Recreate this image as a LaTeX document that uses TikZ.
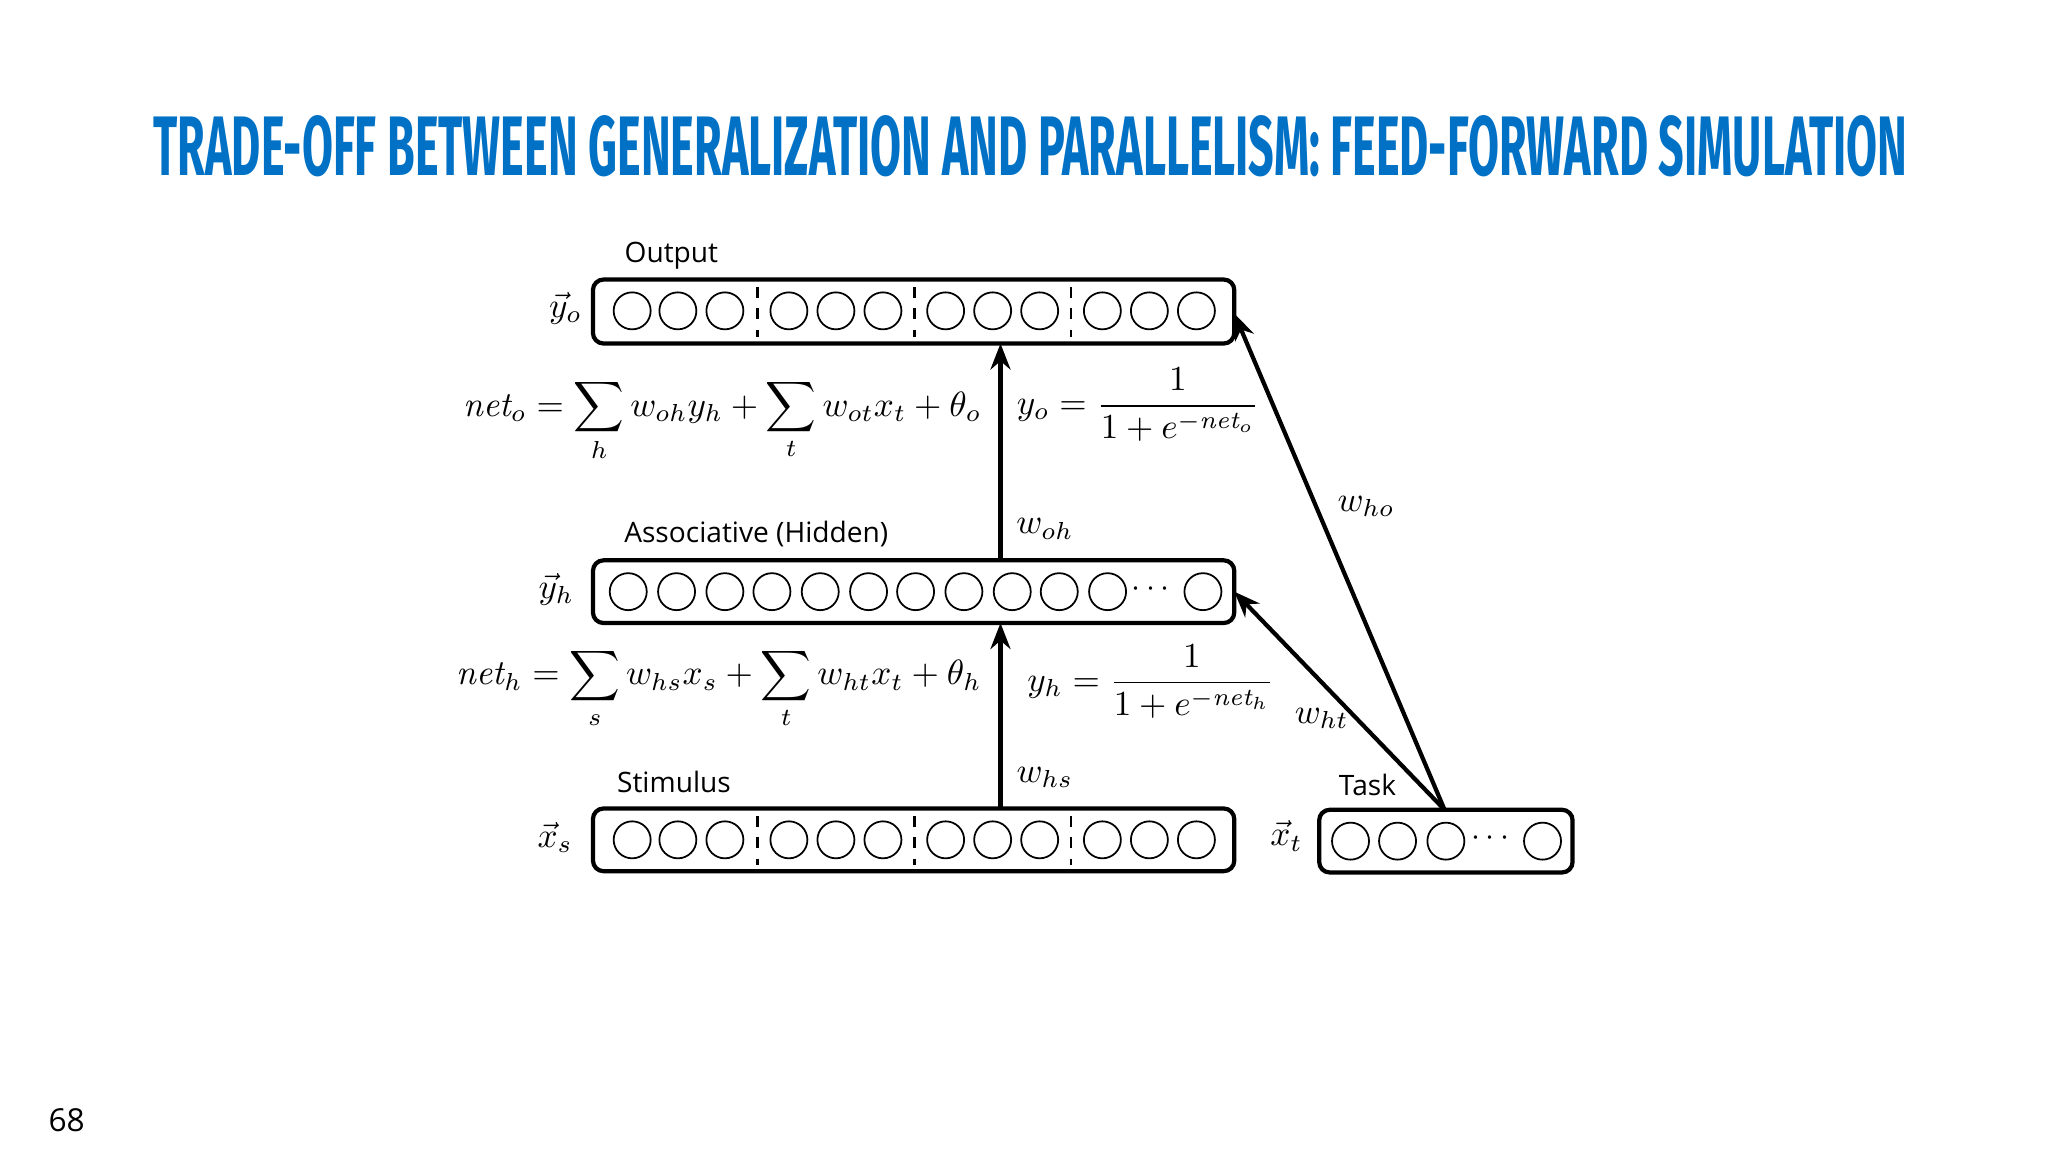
\documentclass[tikz,border=0pt]{standalone}
\usepackage{fontspec}
\usepackage{amsmath}
\newfontfamily\titlefont{Fira Sans}
\newfontfamily\labfont{Open Sans}
\definecolor{tblue}{RGB}{0,113,197}
\usetikzlibrary{arrows.meta}
\tikzset{
 bar/.style={draw, line width=1.2pt, rounded corners=3pt},
 unit/.style={draw, circle, line width=0.5pt, minimum size=0.37cm, inner sep=0pt},
 sep/.style={dashed, line width=0.8pt},
 arr/.style={-{Stealth[length=2.6mm,width=2mm]}, line width=1.2pt},
 lab/.style={font=\labfont\fontsize{8}{10}\selectfont, inner sep=0pt},
 eq/.style={font=\fontsize{10}{12}\selectfont, inner sep=0pt}
}
\begin{document}
\begin{tikzpicture}[x=0.013061cm,y=-0.013061cm]
\useasboundingbox (0,0) rectangle (1568,882);
\node[text=tblue, inner sep=0pt] (title) at (789,112) {\resizebox{17.54cm}{0.6cm}{\titlefont\bfseries TRADE-OFF BETWEEN GENERALIZATION AND PARALLELISM: FEED-FORWARD SIMULATION}};
\node[font=\labfont\fontsize{9}{10}\selectfont] (pg) at (51,858) {68};
% bars
\node[bar, minimum width=491*0.013061cm, minimum height=49*0.013061cm] (out) at (699.5,238.5) {};
\node[bar, minimum width=491*0.013061cm, minimum height=48*0.013061cm] (hid) at (699.5,453) {};
\node[bar, minimum width=491*0.013061cm, minimum height=48*0.013061cm] (sti) at (699.5,643) {};
\node[bar, minimum width=194*0.013061cm, minimum height=48*0.013061cm] (tsk) at (1107,644) {};
\foreach \x [count=\i] in {484,519,555,604,640,676,724,760,796,844,880,916}{
  \node[unit] (o\i) at (\x,238) {};
  \node[unit] (s\i) at (\x,643) {};
}
\foreach \x in {580,700,820}{
  \draw[sep] (\x,220) -- (\x,258);
  \draw[sep] (\x,625) -- (\x,662);
}
\foreach \x [count=\i] in {481,518,555,591,628,665,701,738,775,811,848,921}{
  \node[unit] (h\i) at (\x,453) {};
}
\node[inner sep=0pt, font=\small] (hd) at (883,451) {$\cdots$};
\foreach \x [count=\i] in {1034,1070,1107,1181}{
  \node[unit] (t\i) at (\x,644) {};
}
\node[inner sep=0pt, font=\small] (td) at (1143,642) {$\cdots$};
% arrows
\coordinate (a1) at (766,619);
\coordinate (a2) at (766,477);
\coordinate (a3) at (766,429);
\coordinate (a4) at (766,263);
\coordinate (tk) at (1106,620);
\coordinate (hr) at (945,453);
\coordinate (orr) at (945,240);
\draw[arr] (a1) -- (a2);
\draw[arr] (a3) -- (a4);
\draw[arr] (tk) -- (hr);
\draw[arr] (tk) -- (orr);
% labels
\node[lab] (l1) at (514,196) {Output};
\node[lab] (l2) at (579,409) {Associative (Hidden)};
\node[lab] (l3) at (516,599) {Stimulus};
\node[lab] (l4) at (1047,601) {Task};
\node[eq] (v1) at (433,236) {$\vec{y}_o$};
\node[eq] (v2) at (426,451) {$\vec{y}_h$};
\node[eq] (v3) at (425,641) {$\vec{x}_s$};
\node[eq] (v4) at (985,640) {$\vec{x}_t$};
\node[eq, anchor=east] (e1) at (752,322) {$\mathit{net}_o = \displaystyle\sum_h w_{oh}y_h + \sum_t w_{ot}x_t + \theta_o$};
\node[eq, anchor=west] (e2) at (778,310) {$y_o = \dfrac{1}{1+e^{-\mathit{net}_o}}$};
\node[eq, anchor=east] (e3) at (752,527) {$\mathit{net}_h = \displaystyle\sum_s w_{hs}x_s + \sum_t w_{ht}x_t + \theta_h$};
\node[eq, anchor=west] (e4) at (786,522) {$y_h = \dfrac{1}{1+e^{-\mathit{net}_h}}$};
\node[eq] (w1) at (800,405) {$w_{oh}$};
\node[eq] (w2) at (800,595) {$w_{hs}$};
\node[eq] (w3) at (1046,388) {$w_{ho}$};
\node[eq] (w4) at (1012,550) {$w_{ht}$};
\end{tikzpicture}
\end{document}
